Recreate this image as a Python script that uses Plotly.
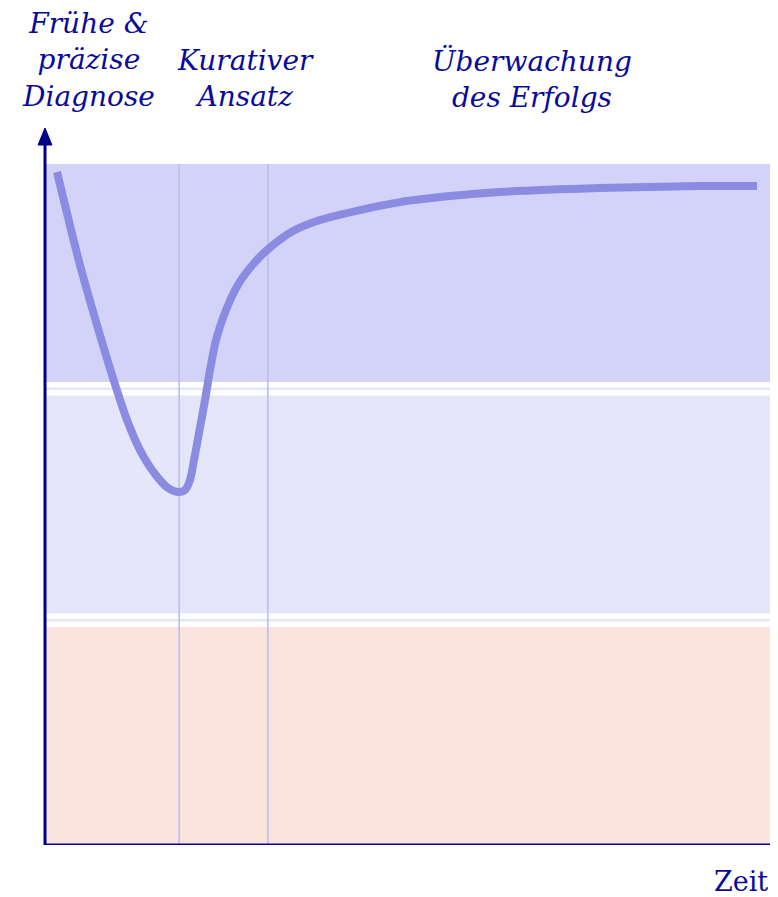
import plotly.graph_objects as go

# Curve (time, status)
curve_x = [0.164, 0.477, 0.750, 0.941, 1.119, 1.296, 1.501, 1.678, 1.814,
           1.910, 1.978, 2.033, 2.108, 2.183, 2.251, 2.333, 2.469, 2.592, 2.701,
           2.865, 3.029, 3.383, 3.752, 4.297, 4.843, 5.525, 6.207, 7.572, 8.936, 9.713]
curve_y = [9.883, 8.517, 7.489, 6.813, 6.241, 5.800, 5.448, 5.242, 5.184,
           5.213, 5.360, 5.653, 6.094, 6.535, 6.975, 7.416, 7.856, 8.150, 8.341,
           8.561, 8.737, 9.016, 9.178, 9.325, 9.442, 9.530, 9.589, 9.648, 9.677, 9.677]

# Horizontal zones (bottom, top, colour)
band_bottoms = [0.0, 3.4, 6.8]
band_tops = [3.2, 6.6, 10.0]
band_colors = ["#fce4de", "#e6e6fa", "#d3d3fa"]
separator_y = [3.3, 6.7]

# Phase boundaries
phase_x = [1.83, 3.04]

# Phase labels
phase_labels = ["Frühe &<br>präzise<br>Diagnose", "Kurativer<br>Ansatz", "Überwachung<br>des Erfolgs"]
phase_label_x = [0.587, 2.73, 6.64]
phase_label_y = [1.0948, 1.069, 1.069]   # paper units
axis_title = "Zeit"

X_MIN, X_MAX = -0.3956, 9.89
Y_MIN, Y_MAX = 0.0, 10.53

axis_color = "#00008b"
text_color = "#0a0a9a"
font_family = "DejaVu Serif"

fig = go.Figure()

fig.add_trace(go.Scatter(
    x=curve_x, y=curve_y, mode="lines",
    line=dict(color="#8b8be1", width=8, shape="spline", smoothing=0.8),
    hoverinfo="skip", showlegend=False, cliponaxis=False,
))

shapes = []
for b, t, c in zip(band_bottoms, band_tops, band_colors):
    shapes.append(dict(type="rect", xref="x", yref="y", x0=0, x1=X_MAX, y0=b, y1=t,
                       fillcolor=c, line=dict(width=0), layer="below"))
for s in separator_y:
    shapes.append(dict(type="line", xref="x", yref="y", x0=0, x1=X_MAX, y0=s, y1=s,
                       line=dict(color="#e6e6fa", width=2.5), layer="below"))
for px in phase_x:
    shapes.append(dict(type="line", xref="x", yref="y", x0=px, x1=px, y0=0, y1=band_tops[-1],
                       line=dict(color="#babaf3", width=1.5), layer="below"))

# axes
shapes.append(dict(type="line", xref="x", yref="y", x0=0, x1=X_MAX, y0=0, y1=0,
                   line=dict(color=axis_color, width=3)))
shapes.append(dict(type="line", xref="x", yref="y", x0=0, x1=0, y0=0, y1=10.3,
                   line=dict(color=axis_color, width=3)))
# arrow head on y-axis
ah_w = 0.095
ah_base = 10.28
shapes.append(dict(type="path", xref="x", yref="y",
                   path=f"M {-ah_w},{ah_base} L 0,{Y_MAX} L {ah_w},{ah_base} Z",
                   fillcolor=axis_color, line=dict(color=axis_color, width=1)))

annotations = []
for lab, lx, ly in zip(phase_labels, phase_label_x, phase_label_y):
    annotations.append(dict(text=f"<i>{lab}</i>", x=lx, y=ly, xref="x", yref="paper",
                            showarrow=False, xanchor="center", yanchor="middle", align="center",
                            font=dict(family=font_family, size=28, color=text_color)))
annotations.append(dict(text=axis_title, x=1.0, y=-0.0516, xref="paper", yref="paper",
                        showarrow=False, xanchor="right", yanchor="middle",
                        font=dict(family=font_family, size=27, color=text_color)))

fig.update_layout(
    width=762, height=889,
    margin=dict(l=8, r=0, t=120, b=52),
    paper_bgcolor="white", plot_bgcolor="white",
    xaxis=dict(range=[X_MIN, X_MAX], visible=False, fixedrange=True),
    yaxis=dict(range=[Y_MIN, Y_MAX], visible=False, fixedrange=True),
    shapes=shapes, annotations=annotations,
    showlegend=False,
)

fig.write_html("out.html")
